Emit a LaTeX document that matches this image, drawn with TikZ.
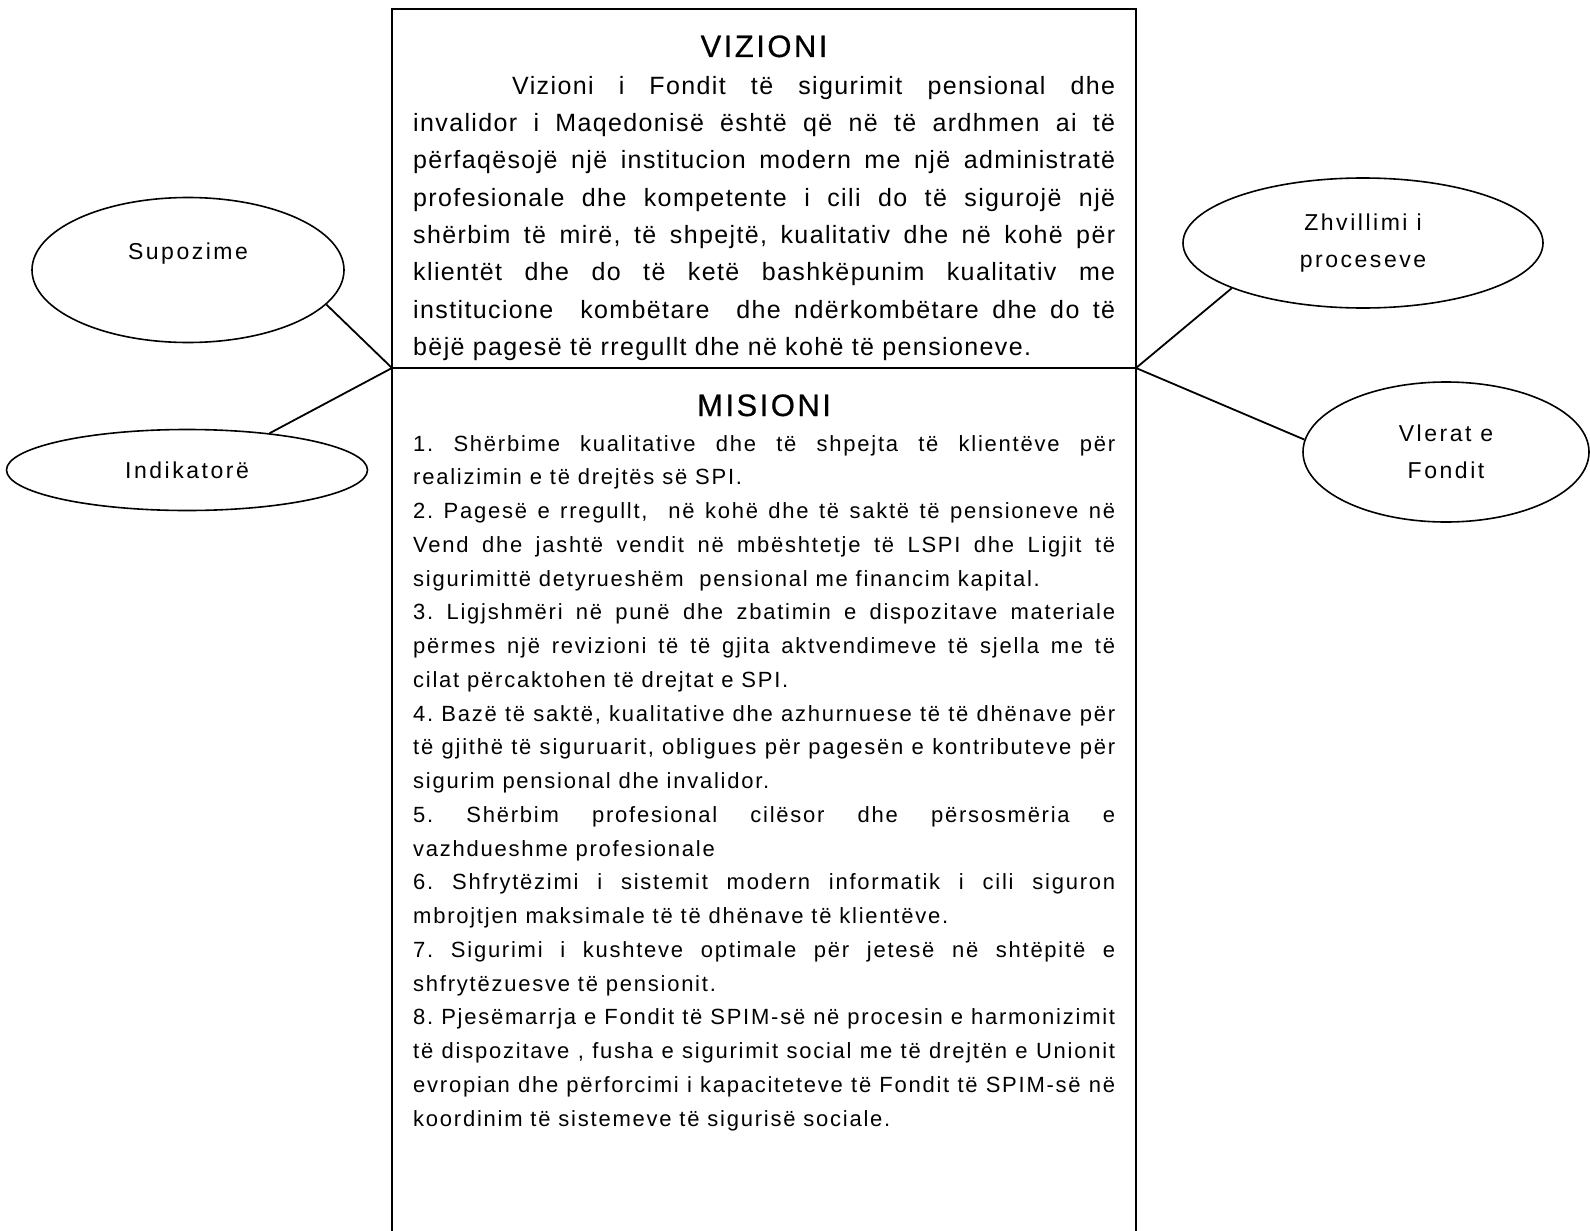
\documentclass[tikz,border=0pt]{standalone}
\usepackage{fontspec}
\setmainfont{Liberation Sans}
\newfontfamily\visfont{Liberation Sans}[LetterSpace=5.5]
\newfontfamily\misfont{Liberation Sans}[LetterSpace=8]
\newfontfamily\hdfont{Liberation Sans}[LetterSpace=8,FakeBold=0.6]
\newfontfamily\ovalfont{Liberation Sans}[LetterSpace=11]
\usetikzlibrary{shapes.geometric}
\begin{document}
\frenchspacing
\begin{tikzpicture}[x=1pt,y=-1pt,
  oval/.style={draw, line width=1.6pt, ellipse, inner sep=0pt, align=center,
    font=\ovalfont\fontsize{23}{37}\selectfont},
  link/.style={line width=1.8pt},
  frame/.style={line width=2.3pt},
  head/.style={anchor=base, inner sep=0pt, font=\hdfont\fontsize{31}{36}\selectfont},
  body/.style={anchor=base west, inner sep=0pt, text width=702pt, align=justify}]
\useasboundingbox (0,0) rectangle (1590,1231);
% frame
\coordinate (jl) at (392,368);
\coordinate (jr) at (1136,368);
\draw[frame] (392,1232) -- (392,9) -- (1136,9) -- (1136,1232);
\draw[frame] (jl) -- (jr);
% headings
\node[head] (vh) at (764,57) {VIZIONI};
\node[head] (mh) at (764,416) {MISIONI};
% vision text
\node[body, font=\visfont\fontsize{25}{37.4}\selectfont] (vtxt) at (413,94) {\tolerance=9999\emergencystretch=0pt
\hspace*{99pt}Vizioni i Fondit të sigurimit pensional dhe\linebreak
invalidor i Maqedonisë është që në të ardhmen ai të\linebreak
përfaqësojë një institucion modern me një administratë\linebreak
profesionale dhe kompetente i cili do të sigurojë një\linebreak
shërbim të mirë, të shpejtë, kualitativ dhe në kohë për\linebreak
klientët dhe do të ketë bashkëpunim kualitativ me\linebreak
institucione \ kombëtare \ dhe ndërkombëtare dhe do të\linebreak
bëjë pagesë të rregullt dhe në kohë të pensioneve.};
% mission text
\node[body, font=\misfont\fontsize{22}{33.75}\selectfont] (mtxt) at (413,451) {\tolerance=9999\emergencystretch=0pt
1. Shërbime kualitative dhe të shpejta të klientëve për\linebreak
realizimin e të drejtës së SPI.\\
2. Pagesë e rregullt, \ në kohë dhe të saktë të pensioneve në\linebreak
Vend dhe jashtë vendit në mbështetje të LSPI dhe Ligjit të\linebreak
sigurimittë detyrueshëm \ pensional me financim kapital.\\
3. Ligjshmëri në punë dhe zbatimin e dispozitave materiale\linebreak
përmes një revizioni të të gjita aktvendimeve të sjella me të\linebreak
cilat përcaktohen të drejtat e SPI.\\
4. Bazë të saktë, kualitative dhe azhurnuese të të dhënave për\linebreak
të gjithë të siguruarit, obligues për pagesën e kontributeve për\linebreak
sigurim pensional dhe invalidor.\\
5. Shërbim profesional cilësor dhe përsosmëria e\linebreak
vazhdueshme profesionale\\
6. Shfrytëzimi i sistemit modern informatik i cili siguron\linebreak
mbrojtjen maksimale të të dhënave të klientëve.\\
7. Sigurimi i kushteve optimale për jetesë në shtëpitë e\linebreak
shfrytëzuesve të pensionit.\\
8. Pjesëmarrja e Fondit të SPIM-së në procesin e harmonizimit\linebreak
të dispozitave , fusha e sigurimit social me të drejtën e Unionit\linebreak
evropian dhe përforcimi i kapaciteteve të Fondit të SPIM-së në\linebreak
koordinim të sistemeve të sigurisë sociale.};
% ovals
\node[oval, minimum width=312pt, minimum height=145pt] (sup) at (188,270) {Supozime\\\mbox{}};
\node[oval, minimum width=361pt, minimum height=81pt] (ind) at (187,470) {Indikatorë};
\node[oval, minimum width=360pt, minimum height=130pt] (zhv) at (1363,243) {Zhvillimi i\\proceseve};
\node[oval, minimum width=286pt, minimum height=140pt] (vle) at (1446,452) {Vlerat e\\Fondit};
% connectors
\draw[link] (sup.-14) -- (jl);
\draw[link] (ind.24) -- (jl);
\draw[link] (zhv.199) -- (jr);
\draw[link] (vle.175) -- (jr);
\end{tikzpicture}
\end{document}
